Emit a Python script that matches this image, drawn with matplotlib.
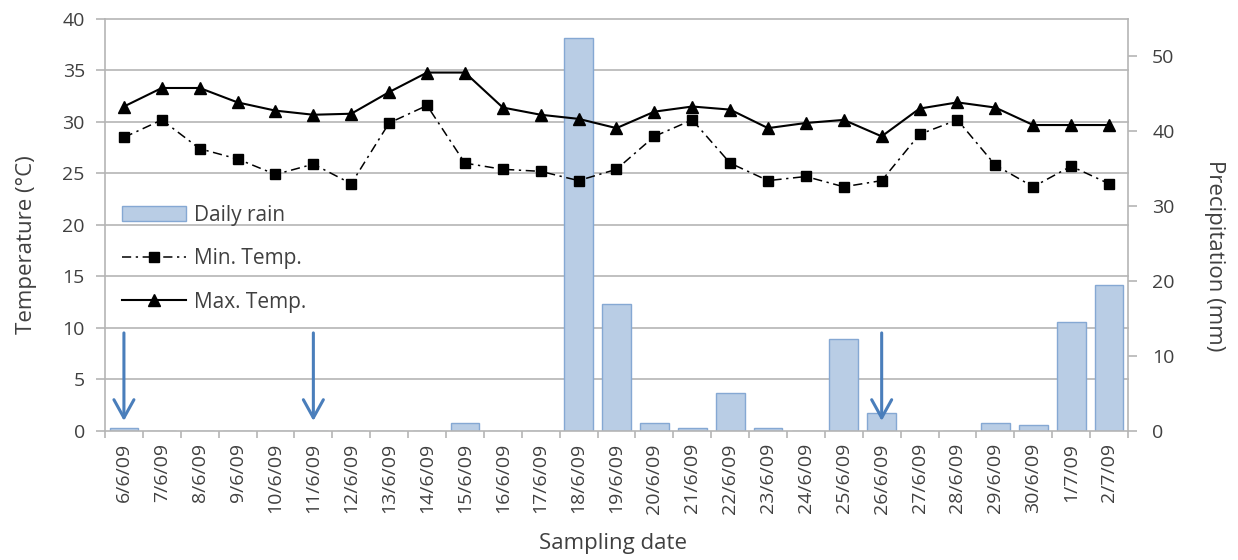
import numpy as np
import matplotlib
matplotlib.use('Agg')
import matplotlib.pyplot as plt
import matplotlib.transforms as mtransforms

dates = ['6/6/09', '7/6/09', '8/6/09', '9/6/09', '10/6/09', '11/6/09', '12/6/09',
         '13/6/09', '14/6/09', '15/6/09', '16/6/09', '17/6/09', '18/6/09', '19/6/09',
         '20/6/09', '21/6/09', '22/6/09', '23/6/09', '24/6/09', '25/6/09', '26/6/09',
         '27/6/09', '28/6/09', '29/6/09', '30/6/09', '1/7/09', '2/7/09']

max_temp = [31.5, 33.3, 33.3, 31.9, 31.1, 30.7, 30.8, 32.9, 34.8, 34.8, 31.4, 30.7,
            30.3, 29.4, 31.0, 31.5, 31.2, 29.4, 29.9, 30.2, 28.6, 31.3, 31.9, 31.4,
            29.7, 29.7, 29.7]

min_temp = [28.5, 30.2, 27.4, 26.4, 24.9, 25.9, 24.0, 29.9, 31.6, 26.0, 25.4, 25.2,
            24.3, 25.4, 28.6, 30.2, 26.0, 24.3, 24.7, 23.7, 24.3, 28.8, 30.2, 25.8,
            23.7, 25.7, 24.0]

rain = [0.3, 0, 0, 0, 0, 0, 0, 0, 0, 1.0, 0, 0, 52.5, 16.9, 1.0, 0.3, 5.1, 0.3, 0,
        12.3, 2.3, 0, 0, 1.0, 0.8, 14.5, 19.4]

# sampling days marked with arrows
arrow_days = ['6/6/09', '11/6/09', '26/6/09']

temp_ticks = np.arange(0, 41, 5)
rain_ticks = np.arange(0, 51, 10)

grey = '#b5b5b5'
txt = '#404040'

plt.rcParams['font.family'] = ['Open Sans', 'DejaVu Sans']

fig = plt.figure(figsize=(12.38, 5.6), dpi=100)
ax = fig.add_axes([0.0848, 0.2309, 0.8263, 0.7351])
ax2 = ax.twinx()
ax.set_zorder(2)
ax2.set_zorder(1)
ax.patch.set_visible(False)

x = np.arange(len(dates))

# precipitation bars (right axis, below the lines)
bars = ax2.bar(x, rain, width=0.76, color='#b9cde5', edgecolor='#85a8d3',
               linewidth=1, zorder=2, label='Daily rain')
ax2.set_ylim(0, 55)
ax2.set_yticks(rain_ticks)

# gridlines of the temperature axis, drawn behind the bars
tr = mtransforms.blended_transform_factory(ax2.transAxes, ax.transData)
for t in temp_ticks[1:]:
    ax2.plot([0, 1], [t, t], color=grey, lw=1.2, transform=tr, zorder=0.5,
             clip_on=False)

l_min, = ax.plot(x, min_temp, color='black', lw=1.1, ls=(0, (6, 3, 1.5, 3)),
                 marker='s', ms=7, label='Min. Temp.')
l_max, = ax.plot(x, max_temp, color='black', lw=1.5, marker='^', ms=8,
                 label='Max. Temp.')

ax.set_ylim(0, 40)
ax.set_yticks(temp_ticks)
ax.set_xlim(-0.5, len(dates) - 0.5)
ax.set_xticks(x)
ax.set_xticklabels(dates, rotation=90, fontsize=14, color=txt)
ax.set_xticks(np.arange(-0.5, len(dates), 1), minor=True)
ax.tick_params(axis='x', which='major', length=0, pad=9)
ax.tick_params(axis='x', which='minor', length=5, color=grey, width=1.2)
ax.tick_params(axis='y', length=6.5, color=grey, width=1.2, labelsize=14,
               labelcolor=txt, pad=8)
ax2.tick_params(axis='y', length=6.5, color=grey, width=1.2, labelsize=14,
                labelcolor=txt, pad=11)

for a in (ax, ax2):
    a.spines['top'].set_visible(False)
    for s in ('left', 'right', 'bottom'):
        a.spines[s].set_color(grey)
        a.spines[s].set_linewidth(1.2)
ax.spines['right'].set_visible(False)
ax2.spines['left'].set_visible(False)
ax2.spines['bottom'].set_visible(False)

for d in arrow_days:
    i = dates.index(d)
    ax.annotate('', xy=(i, 0.95), xytext=(i, 9.5),
                arrowprops=dict(arrowstyle='->,head_width=0.36,head_length=0.65',
                                color='#4a7ebb', lw=2.2, mutation_scale=20,
                                shrinkA=0, shrinkB=0))

ax.set_xlabel('Sampling date', fontsize=16, color=txt, va='center')
ax.xaxis.set_label_coords(0.497, -0.273)
ax.set_ylabel('Temperature (°C)', fontsize=16, color=txt, va='center')
ax.yaxis.set_label_coords(-0.077, 0.451)
ax2.set_ylabel('Precipitation (mm)', fontsize=16, color=txt, rotation=270,
               va='center')
ax2.yaxis.set_label_coords(1.085, 0.424)

ax.legend([bars, l_min, l_max], ['Daily rain', 'Min. Temp.', 'Max. Temp.'],
          loc='upper left', bbox_to_anchor=(-0.002, 0.595), frameon=False,
          fontsize=15, handlelength=3.1, handletextpad=0.35, labelspacing=1.08,
          labelcolor=txt)

fig.savefig('out.png', dpi=100)
